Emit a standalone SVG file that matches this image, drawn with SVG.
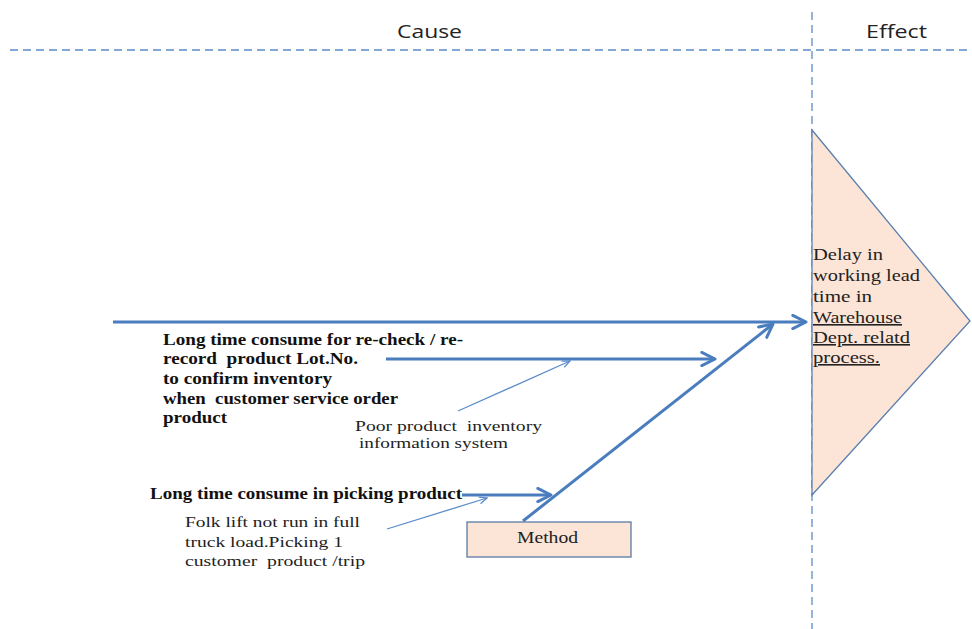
<svg xmlns="http://www.w3.org/2000/svg" width="972" height="629" viewBox="0 0 972 629">
<defs>
<style>
.hdr{font-family:"Open Sans","Liberation Sans",sans-serif;font-size:18px;fill:#222}
.b{font-family:"Liberation Serif",serif;font-size:16px;font-weight:bold;fill:#111}
.r{font-family:"Liberation Serif",serif;font-size:15px;fill:#222}
.t{font-family:"Liberation Serif",serif;font-size:16px;fill:#222}
.dash{stroke:#5b8ccc;stroke-width:1.3;stroke-dasharray:8 5;fill:none}
.thick{stroke:#4a7dbd;stroke-width:3;fill:none}
.thin{stroke:#5a8ccc;stroke-width:1.3;fill:none}
</style>
<marker id="ah" viewBox="0 0 10 10" refX="9" refY="5" markerWidth="5.5" markerHeight="5.5" orient="auto" markerUnits="strokeWidth">
<path d="M1,1 L9,5 L1,9" fill="none" stroke="#4a7dbd" stroke-width="1.8" stroke-linecap="round" stroke-linejoin="round"/>
</marker>
<marker id="ahs" viewBox="0 0 10 10" refX="9" refY="5" markerWidth="7" markerHeight="7" orient="auto" markerUnits="strokeWidth">
<path d="M1,1.5 L9,5 L1,8.5" fill="none" stroke="#5a8ccc" stroke-width="1.5" stroke-linecap="round"/>
</marker>
</defs>
<rect width="972" height="629" fill="#fff"/>
<g id="header">
<line class="dash" x1="10" y1="50" x2="972" y2="50"/>
<line class="dash" x1="812" y1="12" x2="812" y2="629"/>
<text class="hdr" x="397" y="38" textLength="65" lengthAdjust="spacingAndGlyphs">Cause</text>
<text class="hdr" x="866" y="38" textLength="61" lengthAdjust="spacingAndGlyphs">Effect</text>
</g>
<g id="effect">
<polygon points="812,130 970,321 812,495" fill="#fce5d6" stroke="#5b80b0" stroke-width="1.3"/>
<text class="t" x="813" y="260" textLength="70" lengthAdjust="spacingAndGlyphs">Delay in</text>
<text class="t" x="813" y="281" textLength="107" lengthAdjust="spacingAndGlyphs">working lead</text>
<text class="t" x="813" y="302" textLength="59" lengthAdjust="spacingAndGlyphs">time in</text>
<text class="t" x="813" y="323" textLength="89" lengthAdjust="spacingAndGlyphs" text-decoration="underline">Warehouse</text>
<text class="t" x="813" y="343" textLength="97" lengthAdjust="spacingAndGlyphs" text-decoration="underline">Dept. relatd</text>
<text class="t" x="813" y="363" textLength="67" lengthAdjust="spacingAndGlyphs" text-decoration="underline">process.</text>
</g>
<g id="connectors">
<line class="thick" x1="113" y1="322" x2="806" y2="322" marker-end="url(#ah)"/>
<line class="thick" x1="386" y1="359" x2="715" y2="359" marker-end="url(#ah)"/>
<line class="thick" x1="462" y1="495" x2="551" y2="495" marker-end="url(#ah)"/>
<line class="thick" x1="523" y1="521" x2="773" y2="324" marker-end="url(#ah)"/>
<line class="thin" x1="458" y1="411" x2="570" y2="361" marker-end="url(#ahs)"/>
<line class="thin" x1="387" y1="529" x2="487" y2="498" marker-end="url(#ahs)"/>
</g>
<g id="cause1">
<text class="b" x="163" y="345" textLength="300" lengthAdjust="spacingAndGlyphs">Long time consume for re-check / re-</text>
<text class="b" x="163" y="364" textLength="195" lengthAdjust="spacingAndGlyphs" xml:space="preserve">record  product Lot.No.</text>
<text class="b" x="163" y="384" textLength="169" lengthAdjust="spacingAndGlyphs">to confirm inventory</text>
<text class="b" x="163" y="404" textLength="235" lengthAdjust="spacingAndGlyphs" xml:space="preserve">when  customer service order</text>
<text class="b" x="163" y="423" textLength="64" lengthAdjust="spacingAndGlyphs">product</text>
</g>
<g id="subcause1">
<text class="r" x="355" y="431" textLength="187" lengthAdjust="spacingAndGlyphs" xml:space="preserve">Poor product  inventory</text>
<text class="r" x="359" y="448" textLength="149" lengthAdjust="spacingAndGlyphs">information system</text>
</g>
<g id="cause2">
<text class="b" x="150" y="499" textLength="312" lengthAdjust="spacingAndGlyphs">Long time consume in picking product</text>
</g>
<g id="subcause2">
<text class="r" x="185" y="527" textLength="175" lengthAdjust="spacingAndGlyphs">Folk lift not run in full</text>
<text class="r" x="185" y="547" textLength="158" lengthAdjust="spacingAndGlyphs">truck load.Picking 1</text>
<text class="r" x="185" y="566" textLength="180" lengthAdjust="spacingAndGlyphs" xml:space="preserve">customer  product /trip</text>
</g>
<g id="method">
<rect x="467" y="522" width="164" height="35" fill="#fce5d6" stroke="#5b7aa8" stroke-width="1.3"/>
<text class="t" x="517" y="543" textLength="61" lengthAdjust="spacingAndGlyphs">Method</text>
</g>
</svg>
